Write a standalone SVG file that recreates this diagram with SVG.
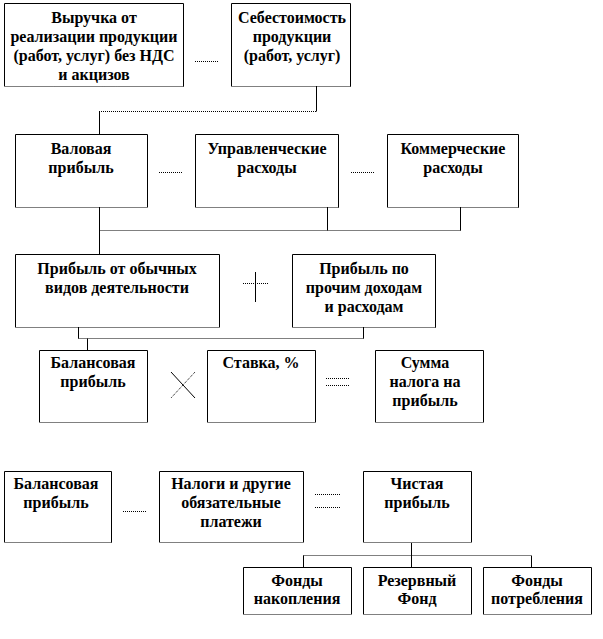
<svg xmlns="http://www.w3.org/2000/svg" width="603" height="639" viewBox="0 0 603 639">
<style>
.bg{fill:#fff;stroke:none}
.bd{fill:none;stroke:#000;stroke-width:1}
.dt{stroke:#000;stroke-width:1;stroke-dasharray:1 1;fill:none}
.ln{stroke:#000;stroke-width:1;fill:none}
</style>
<rect x="0" y="0" width="603" height="639" fill="#fff"/>
<g id="connectors">
<polyline class="ln" points="316.5,86 316.5,111.5"/>
<line class="dt" x1="99" y1="111.5" x2="316.5" y2="111.5"/>
<line class="ln" x1="99.5" y1="111.5" x2="99.5" y2="134"/>
<line class="ln" x1="99.5" y1="207" x2="99.5" y2="254"/>
<line class="ln" x1="327.5" y1="207" x2="327.5" y2="230.5"/>
<line class="ln" x1="460.5" y1="207" x2="460.5" y2="230.5"/>
<line class="dt" x1="99.5" y1="230.5" x2="460.5" y2="230.5"/>
<line class="ln" x1="78.5" y1="327" x2="78.5" y2="338.5"/>
<line class="ln" x1="363.5" y1="327" x2="363.5" y2="338.5"/>
<line class="dt" x1="78.5" y1="338.5" x2="363.5" y2="338.5"/>
<line class="ln" x1="87.5" y1="338.5" x2="87.5" y2="350"/>
<line class="ln" x1="411.5" y1="543" x2="411.5" y2="567"/>
<line class="dt" x1="303.5" y1="555.5" x2="531.5" y2="555.5"/>
<line class="ln" x1="303.5" y1="555.5" x2="303.5" y2="567"/>
<line class="ln" x1="531.5" y1="555.5" x2="531.5" y2="567"/>
</g>
<g id="operators">
<line class="dt" x1="195" y1="61.5" x2="219" y2="61.5"/>
<line class="dt" x1="159" y1="172.5" x2="183" y2="172.5"/>
<line class="dt" x1="351" y1="172.5" x2="375" y2="172.5"/>
<line class="dt" x1="243" y1="283.5" x2="268" y2="283.5"/>
<line class="ln" x1="255.5" y1="272" x2="255.5" y2="302"/>
<line class="ln" x1="171" y1="372" x2="195" y2="398"/>
<line class="dt" x1="195" y1="372" x2="171" y2="398"/>
<line class="dt" x1="326" y1="378.5" x2="350" y2="378.5"/>
<line class="dt" x1="326" y1="385.5" x2="350" y2="385.5"/>
<line class="dt" x1="123" y1="511.5" x2="147" y2="511.5"/>
<line class="dt" x1="315" y1="494.5" x2="340" y2="494.5"/>
<line class="dt" x1="315" y1="507.5" x2="340" y2="507.5"/>
</g>
<g id="n1"><rect class="bg" x="4" y="3" width="179" height="83"/><path class="bd" d="M4.5,86 V3.5 H183.5 V86.5"/><line class="dt" x1="4.5" y1="86.5" x2="183.5" y2="86.5"/>
<text font-family="Liberation Serif" font-weight="bold" font-size="16" text-anchor="middle" x="94" y="23">Выручка от</text><text font-family="Liberation Serif" font-weight="bold" font-size="16" text-anchor="middle" x="94" y="42">реализации продукции</text><text font-family="Liberation Serif" font-weight="bold" font-size="16" text-anchor="middle" x="94" y="61">(работ, услуг)  без НДС</text><text font-family="Liberation Serif" font-weight="bold" font-size="16" text-anchor="middle" x="94" y="80">и акцизов</text></g>
<g id="n2"><rect class="bg" x="231" y="3" width="119" height="83"/><path class="bd" d="M231.5,86 V3.5 H350.5 V86.5"/><line class="dt" x1="231.5" y1="86.5" x2="350.5" y2="86.5"/>
<text font-family="Liberation Serif" font-weight="bold" font-size="16" text-anchor="middle" x="292" y="23">Себестоимость</text><text font-family="Liberation Serif" font-weight="bold" font-size="16" text-anchor="middle" x="292" y="42">продукции</text><text font-family="Liberation Serif" font-weight="bold" font-size="16" text-anchor="middle" x="292" y="61">(работ, услуг)</text></g>
<g id="n3"><rect class="bg" x="15" y="134" width="132" height="73"/><path class="bd" d="M15.5,207 V134.5 H147.5 V207.5"/><line class="dt" x1="15.5" y1="207.5" x2="147.5" y2="207.5"/>
<text font-family="Liberation Serif" font-weight="bold" font-size="16" text-anchor="middle" x="81" y="154">Валовая</text><text font-family="Liberation Serif" font-weight="bold" font-size="16" text-anchor="middle" x="81" y="173">прибыль</text></g>
<g id="n4"><rect class="bg" x="195" y="134" width="143" height="73"/><path class="bd" d="M195.5,207 V134.5 H338.5 V207.5"/><line class="dt" x1="195.5" y1="207.5" x2="338.5" y2="207.5"/>
<text font-family="Liberation Serif" font-weight="bold" font-size="16" text-anchor="middle" x="267" y="154">Управленческие</text><text font-family="Liberation Serif" font-weight="bold" font-size="16" text-anchor="middle" x="267" y="173">расходы</text></g>
<g id="n5"><rect class="bg" x="387" y="134" width="131" height="73"/><path class="bd" d="M387.5,207 V134.5 H518.5 V207.5"/><line class="dt" x1="387.5" y1="207.5" x2="518.5" y2="207.5"/>
<text font-family="Liberation Serif" font-weight="bold" font-size="16" text-anchor="middle" x="453" y="154">Коммерческие</text><text font-family="Liberation Serif" font-weight="bold" font-size="16" text-anchor="middle" x="453" y="173">расходы</text></g>
<g id="n6"><rect class="bg" x="15" y="254" width="204" height="73"/><path class="bd" d="M15.5,327 V254.5 H219.5 V327.5"/><line class="dt" x1="15.5" y1="327.5" x2="219.5" y2="327.5"/>
<text font-family="Liberation Serif" font-weight="bold" font-size="16" text-anchor="middle" x="117" y="274">Прибыль от обычных</text><text font-family="Liberation Serif" font-weight="bold" font-size="16" text-anchor="middle" x="117" y="293">видов деятельности</text></g>
<g id="n7"><rect class="bg" x="292" y="254" width="143" height="73"/><path class="bd" d="M292.5,327 V254.5 H435.5 V327.5"/><line class="dt" x1="292.5" y1="327.5" x2="435.5" y2="327.5"/>
<text font-family="Liberation Serif" font-weight="bold" font-size="16" text-anchor="middle" x="364" y="274">Прибыль по</text><text font-family="Liberation Serif" font-weight="bold" font-size="16" text-anchor="middle" x="364" y="293">прочим доходам</text><text font-family="Liberation Serif" font-weight="bold" font-size="16" text-anchor="middle" x="364" y="312">и расходам</text></g>
<g id="n8"><rect class="bg" x="39" y="350" width="108" height="72"/><path class="bd" d="M39.5,422 V350.5 H147.5 V422.5"/><line class="dt" x1="39.5" y1="422.5" x2="147.5" y2="422.5"/>
<text font-family="Liberation Serif" font-weight="bold" font-size="16" text-anchor="middle" x="93" y="368">Балансовая</text><text font-family="Liberation Serif" font-weight="bold" font-size="16" text-anchor="middle" x="93" y="387">прибыль</text></g>
<g id="n9"><rect class="bg" x="207" y="350" width="108" height="72"/><path class="bd" d="M207.5,422 V350.5 H315.5 V422.5"/><line class="dt" x1="207.5" y1="422.5" x2="315.5" y2="422.5"/>
<text font-family="Liberation Serif" font-weight="bold" font-size="16" text-anchor="middle" x="261" y="368">Ставка, %</text></g>
<g id="n10"><rect class="bg" x="375" y="350" width="108" height="72"/><path class="bd" d="M375.5,422 V350.5 H483.5 V422.5"/><line class="dt" x1="375.5" y1="422.5" x2="483.5" y2="422.5"/>
<text font-family="Liberation Serif" font-weight="bold" font-size="16" text-anchor="middle" x="425" y="368">Сумма</text><text font-family="Liberation Serif" font-weight="bold" font-size="16" text-anchor="middle" x="425" y="387">налога на</text><text font-family="Liberation Serif" font-weight="bold" font-size="16" text-anchor="middle" x="425" y="406">прибыль</text></g>
<g id="n11"><rect class="bg" x="4" y="471" width="107" height="71"/><path class="bd" d="M4.5,542 V471.5 H111.5 V542.5"/><line class="dt" x1="4.5" y1="542.5" x2="111.5" y2="542.5"/>
<text font-family="Liberation Serif" font-weight="bold" font-size="16" text-anchor="middle" x="56" y="489">Балансовая</text><text font-family="Liberation Serif" font-weight="bold" font-size="16" text-anchor="middle" x="56" y="508">прибыль</text></g>
<g id="n12"><rect class="bg" x="159" y="471" width="144" height="71"/><path class="bd" d="M159.5,542 V471.5 H303.5 V542.5"/><line class="dt" x1="159.5" y1="542.5" x2="303.5" y2="542.5"/>
<text font-family="Liberation Serif" font-weight="bold" font-size="16" text-anchor="middle" x="231" y="489">Налоги и другие</text><text font-family="Liberation Serif" font-weight="bold" font-size="16" text-anchor="middle" x="231" y="508">обязательные</text><text font-family="Liberation Serif" font-weight="bold" font-size="16" text-anchor="middle" x="231" y="527">платежи</text></g>
<g id="n13"><rect class="bg" x="363" y="471" width="108" height="71"/><path class="bd" d="M363.5,542 V471.5 H471.5 V542.5"/><line class="dt" x1="363.5" y1="542.5" x2="471.5" y2="542.5"/>
<text font-family="Liberation Serif" font-weight="bold" font-size="16" text-anchor="middle" x="417" y="489">Чистая</text><text font-family="Liberation Serif" font-weight="bold" font-size="16" text-anchor="middle" x="417" y="508">прибыль</text></g>
<g id="n14"><rect class="bg" x="243" y="567" width="108" height="47"/><path class="bd" d="M243.5,614 V567.5 H351.5 V614.5"/><line class="dt" x1="243.5" y1="614.5" x2="351.5" y2="614.5"/>
<text font-family="Liberation Serif" font-weight="bold" font-size="16" text-anchor="middle" x="297" y="586">Фонды</text><text font-family="Liberation Serif" font-weight="bold" font-size="16" text-anchor="middle" x="297" y="604">накопления</text></g>
<g id="n15"><rect class="bg" x="363" y="567" width="108" height="47"/><path class="bd" d="M363.5,614 V567.5 H471.5 V614.5"/><line class="dt" x1="363.5" y1="614.5" x2="471.5" y2="614.5"/>
<text font-family="Liberation Serif" font-weight="bold" font-size="16" text-anchor="middle" x="417" y="586">Резервный</text><text font-family="Liberation Serif" font-weight="bold" font-size="16" text-anchor="middle" x="417" y="604">Фонд</text></g>
<g id="n16"><rect class="bg" x="483" y="567" width="108" height="47"/><path class="bd" d="M483.5,614 V567.5 H591.5 V614.5"/><line class="dt" x1="483.5" y1="614.5" x2="591.5" y2="614.5"/>
<text font-family="Liberation Serif" font-weight="bold" font-size="16" text-anchor="middle" x="537" y="586">Фонды</text><text font-family="Liberation Serif" font-weight="bold" font-size="16" text-anchor="middle" x="537" y="604">потребления</text></g>
</svg>
